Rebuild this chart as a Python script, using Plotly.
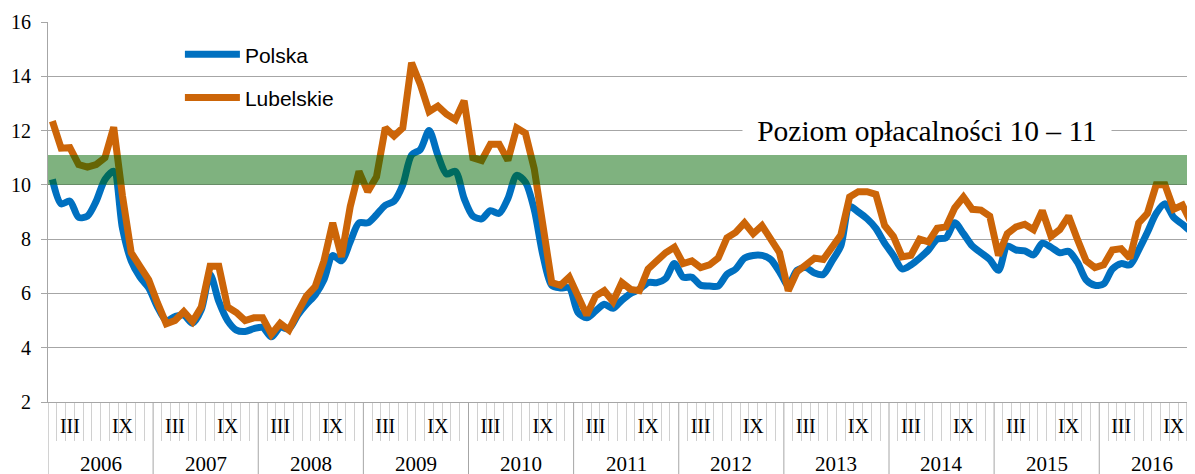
# %%
import plotly.graph_objects as go

# %%
# monthly values, Jan 2006 - Dec 2016
years = list(range(2006, 2017))
month_ticks = ['III', 'IX']

polska = [
    10.2, 9.3, 9.4, 8.8, 8.85, 9.4, 10.2, 10.5, 8.4, 7.2, 6.6, 6.2,
    5.5, 5.0, 5.15, 5.2, 4.9, 5.4, 6.7, 5.7, 5.0, 4.65, 4.6, 4.7,
    4.75, 4.4, 4.75, 4.7, 5.2, 5.6, 5.95, 6.5, 7.4, 7.2, 7.9, 8.6,
    8.6, 8.9, 9.25, 9.4, 10.0, 11.1, 11.3, 12.0, 11.1, 10.4, 10.5, 9.5,
    8.85, 8.75, 9.05, 8.95, 9.5, 10.35, 10.1, 9.1, 7.4, 6.3, 6.2, 6.2,
    5.3, 5.1, 5.35, 5.6, 5.45, 5.75, 6.0, 6.15, 6.4, 6.4, 6.55, 7.1,
    6.6, 6.6, 6.3, 6.27, 6.27, 6.7, 6.9, 7.3, 7.4, 7.4, 7.25, 6.8,
    6.3, 6.85, 6.95, 6.75, 6.7, 7.2, 7.75, 9.2, 9.0, 8.75, 8.4, 7.85,
    7.4, 6.9, 7.05, 7.3, 7.6, 8.0, 8.05, 8.6, 8.2, 7.75, 7.5, 7.25,
    6.85, 7.75, 7.6, 7.57, 7.42, 7.85, 7.7, 7.5, 7.55, 7.15, 6.5, 6.3,
    6.35, 6.9, 7.1, 7.05, 7.6, 8.25, 8.95, 9.3, 8.8, 8.55, 8.3, 8.6,
]

lubelskie = [
    12.35, 11.35, 11.37, 10.75, 10.65, 10.75, 11.0, 12.12, 9.6, 7.5, 7.0, 6.5,
    5.65, 4.88, 5.0, 5.33, 4.96, 5.5, 7.0, 7.0, 5.5, 5.3, 5.0, 5.1,
    5.1, 4.5, 4.9, 4.65, 5.3, 5.9, 6.25, 7.2, 8.6, 7.35, 9.2, 10.5,
    9.75, 10.3, 12.1, 11.8, 12.1, 14.5, 13.7, 12.7, 12.9, 12.6, 12.4, 13.1,
    11.0, 10.9, 11.5, 11.5, 10.9, 12.1, 11.9, 10.6, 8.5, 6.4, 6.3, 6.6,
    5.9, 5.2, 5.9, 6.1, 5.7, 6.4, 6.15, 6.1, 6.9, 7.2, 7.5, 7.7,
    7.1, 7.2, 6.95, 7.05, 7.3, 8.05, 8.25, 8.6, 8.2, 8.5, 8.0, 7.5,
    6.1, 6.8, 7.05, 7.3, 7.25, 7.65, 8.15, 9.55, 9.75, 9.75, 9.65, 8.5,
    8.1, 7.35, 7.4, 8.0, 7.9, 8.4, 8.45, 9.15, 9.55, 9.1, 9.07, 8.85,
    7.4, 8.2, 8.45, 8.55, 8.35, 9.05, 8.1, 8.35, 8.85, 8.0, 7.2, 6.95,
    7.05, 7.6, 7.65, 7.3, 8.6, 8.95, 10.0, 10.0, 9.1, 9.25, 8.6, 9.0,
]

band = (10.0, 11.1)
band_label = 'Poziom opłacalności 10 – 11'

# %%
x = list(range(len(polska)))
serif = 'Liberation Serif, Times New Roman, serif'
grey = '#a6a6a6'

fig = go.Figure()

fig.add_trace(
    go.Scatter(
        x=x, y=polska, name='Polska', mode='lines',
        line=dict(color='#0070c0', width=7, shape='spline', smoothing=0.8),
        legendgroup='a',
    )
)
fig.add_trace(
    go.Scatter(
        x=x, y=lubelskie, name='Lubelskie', mode='lines',
        line=dict(color='#cc6508', width=7),
        legendgroup='b',
    )
)

# profitability band
fig.add_shape(
    type='rect', xref='paper', x0=0, x1=1, yref='y', y0=band[0], y1=band[1],
    fillcolor='rgba(0,102,0,0.5)', line_width=0, layer='above',
)
fig.add_annotation(
    x=99.8, y=12, xref='x', yref='y', text=band_label, showarrow=False,
    font=dict(family=serif, size=29.5, color='black'),
    bgcolor='white', width=366, borderpad=1,
)

# year separators and labels
for i, yr in enumerate(years):
    fig.add_shape(
        type='line', xref='x', yref='paper',
        x0=i * 12 - 0.5, x1=i * 12 - 0.5, y0=0, y1=-0.19,
        line=dict(color=grey, width=1),
    )
    fig.add_annotation(
        x=i * 12 + 5.5, y=-0.127, xref='x', yref='paper', yanchor='top',
        text=str(yr), showarrow=False,
        font=dict(family=serif, size=21, color='black'),
    )

tickvals = []
ticktext = []
for i in range(len(years)):
    tickvals += [i * 12 + 2, i * 12 + 8]
    ticktext += month_ticks

# page body has an 8px margin, so the figure is 8px smaller than the window
fig.update_layout(
    width=1187,
    height=466,
    margin=dict(l=40, r=0, t=14, b=72),
    plot_bgcolor='white',
    paper_bgcolor='white',
    showlegend=True,
    legend=dict(
        x=0.115, y=0.968, xanchor='left', yanchor='top',
        font=dict(family='Liberation Sans, Arial', size=21, color='black'),
        bgcolor='rgba(0,0,0,0)',
        traceorder='grouped', tracegroupgap=13,
        itemwidth=55,
    ),
    xaxis=dict(
        range=[-0.5, 130.43],
        tickvals=tickvals,
        ticktext=ticktext,
        ticks='',
        ticklabelstandoff=6,
        tickfont=dict(family=serif, size=20, color='black'),
        showgrid=False,
        showline=True, linecolor=grey, linewidth=1,
        zeroline=False,
        minor=dict(
            tickmode='array',
            tickvals=[m - 0.5 for m in x if m % 12],
            ticks='outside', ticklen=38, tickcolor='#d0d0d0', tickwidth=1,
            showgrid=False,
        ),
    ),
    yaxis=dict(
        range=[2, 16],
        dtick=2,
        showgrid=True, gridcolor=grey, gridwidth=1,
        showline=True, linecolor=grey, linewidth=1,
        ticks='outside', ticklen=6, tickcolor=grey,
        ticklabelstandoff=6,
        tickfont=dict(family=serif, size=20, color='black'),
        zeroline=False,
    ),
)

fig.write_html('out.html')
